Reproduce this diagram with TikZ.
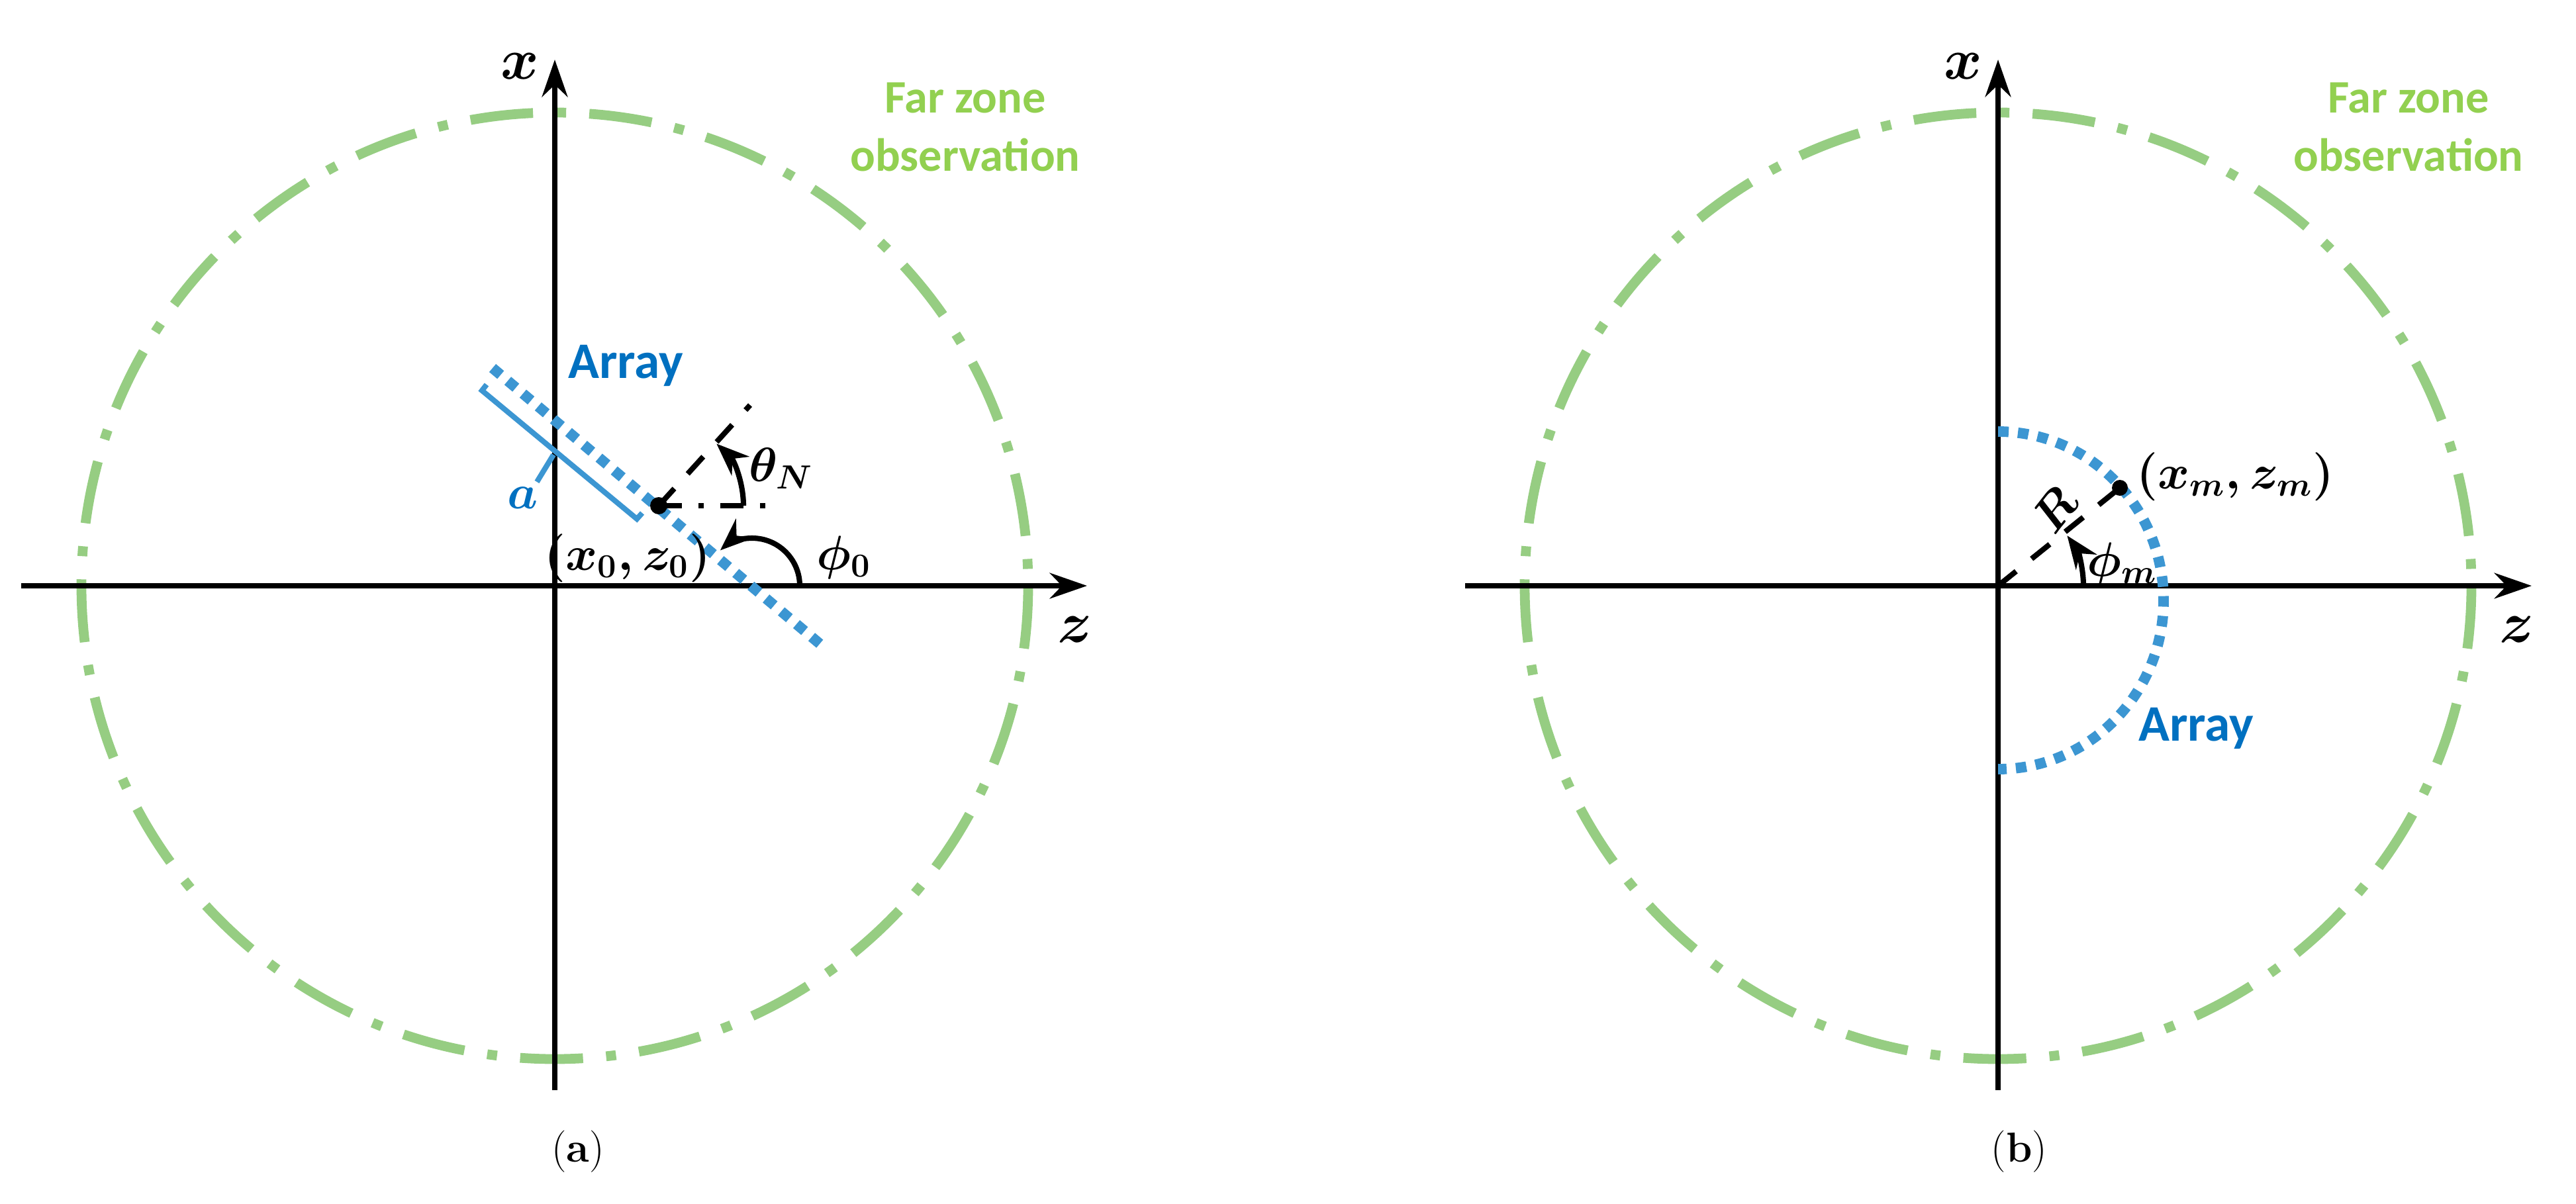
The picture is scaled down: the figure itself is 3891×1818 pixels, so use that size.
\documentclass[tikz,border=0pt]{standalone}
\usepackage{fontspec}
\usepackage{amsmath}
\newfontfamily\sansb{Carlito}[Scale=1]
\usetikzlibrary{arrows.meta}
\definecolor{fzgreen}{RGB}{146,208,80}
\definecolor{cgreen}{RGB}{150,205,130}
\definecolor{arrblue}{RGB}{0,112,192}
\definecolor{dotblue}{RGB}{60,150,210}
\begin{document}
\begin{tikzpicture}[x=0.01cm,y=-0.01cm,
  axis/.style={line width=2.3pt,-{Stealth[length=16pt,width=11pt]}},
  farc/.style={cgreen,line width=4.2pt,dash pattern=on 0.95cm off 0.35cm on 0.15cm off 0.35cm},
  arrdot/.style={dotblue,line width=4.5pt,dash pattern=on 0.16cm off 0.14cm},
  dsh/.style={line width=2.3pt,dash pattern=on 0.35cm off 0.3cm},
  dd/.style={line width=2.3pt,dash pattern=on 0.35cm off 0.25cm on 0.08cm off 0.25cm},
  arc/.style={line width=2.3pt,-{Stealth[length=14pt,width=11pt]}},
  lbl/.style={font=\fontsize{21}{23}\selectfont},
  axl/.style={font=\fontsize{25}{27}\selectfont},
  blue/.style={font=\sansb\bfseries\fontsize{22}{24}\selectfont,text=arrblue},
  green/.style={font=\sansb\bfseries\fontsize{20}{25}\selectfont,text=fzgreen,align=center}]
\useasboundingbox (0,0) rectangle (3891,1818);
% ---------- (a) ----------
\coordinate (Oa) at (838,885);
\draw[farc] (Oa) circle[radius=715];
\coordinate (zaL) at (32,885); \coordinate (zaR) at (1642,885);
\coordinate (xaB) at (838,1647); \coordinate (xaT) at (838,90);
\draw[axis] (zaL) -- (zaR);
\draw[axis] (xaB) -- (xaT);
\node[axl] (xa) at (785,100) {$\boldsymbol{x}$};
\node[axl] (za) at (1624,951) {$\boldsymbol{z}$};
\node[green] (fza) at (1458,192) {Far zone\\observation};
% array
\coordinate (A1) at (744,556); \coordinate (A2) at (1247,980);
\draw[arrdot] (A1) -- (A2);
\node[blue,anchor=west] (arra) at (846,552) {Array};
\coordinate (B1) at (735,581); \coordinate (B2) at (728,590);
\coordinate (B3) at (962,784); \coordinate (B4) at (970,775);
\draw[dotblue,line width=2.3pt] (B1) -- (B2) -- (B3) -- (B4);
\coordinate (Bm) at (836,687); \coordinate (Bt) at (811,728);
\draw[dotblue,line width=2.3pt] (Bm) -- (Bt);
\node[lbl,text=arrblue] (alab) at (790,752) {$\boldsymbol{a}$};
% centre point
\coordinate (P0) at (995,764);
\fill (P0) circle[radius=13];
\coordinate (Ph) at (1166,764);
\draw[dd] (P0) -- (Ph);
\coordinate (Pn) at (1133,612);
\draw[dsh] (P0) -- (Pn);
\draw[arc] (1123,764) arc[start angle=0,end angle=-47,radius=128];
\node[lbl] (thN) at (1180,708) {$\boldsymbol{\theta_N}$};
\coordinate (C0) at (1136,885);
\draw[arc] (1208,885) arc[start angle=0,end angle=-132,radius=72];
\node[lbl] (phi0) at (1275,842) {$\boldsymbol{\phi_0}$};
\node[lbl] (x0z0) at (948,843) {$\boldsymbol{(x_0,z_0)}$};
\node[font=\fontsize{18}{20}\selectfont] (capa) at (873,1740) {(\textbf{a})};
% ---------- (b) ----------
\coordinate (Ob) at (3018,885);
\draw[farc] (Ob) circle[radius=715];
\coordinate (zbL) at (2213,885); \coordinate (zbR) at (3824,885);
\coordinate (xbB) at (3018,1647); \coordinate (xbT) at (3018,90);
\draw[axis] (zbL) -- (zbR);
\draw[axis] (xbB) -- (xbT);
\node[axl] (xb) at (2965,100) {$\boldsymbol{x}$};
\node[axl] (zb) at (3802,951) {$\boldsymbol{z}$};
\node[green] (fzb) at (3638,192) {Far zone\\observation};
\draw[arrdot] (3018,652) arc[start angle=-90,end angle=90,x radius=250,y radius=255];
\node[blue,anchor=west] (arrb) at (3218,1100) {Array};
\coordinate (Pm) at (3202,737);
\draw[dsh] (Ob) -- (Pm);
\fill (Pm) circle[radius=12];
\node[lbl,rotate=52] (Rl) at (3103,770) {$\boldsymbol{R}$};
\draw[arc] (3147,885) arc[start angle=0,end angle=-36,radius=129];
\node[lbl] (phim) at (3205,852) {$\boldsymbol{\phi_m}$};
\node[lbl,anchor=west] (xmzm) at (3215,720) {$\boldsymbol{(x_m,z_m)}$};
\node[font=\fontsize{18}{20}\selectfont] (capb) at (3050,1740) {(\textbf{b})};
\end{tikzpicture}
\end{document}
